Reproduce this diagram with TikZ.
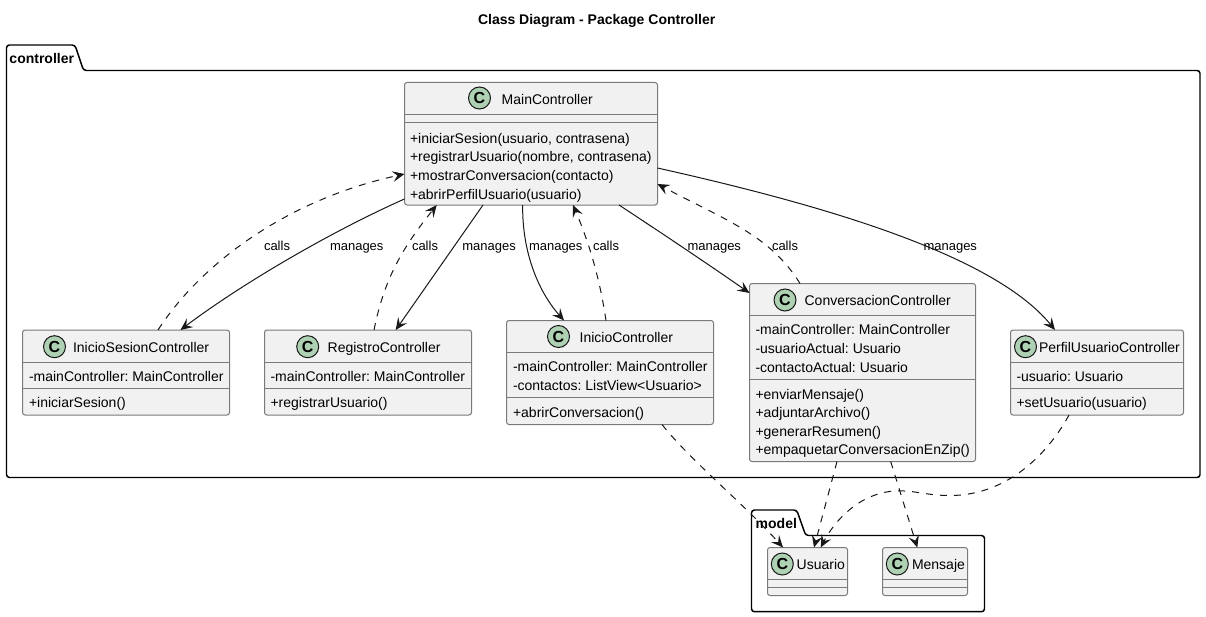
\documentclass[tikz,border=0pt]{standalone}
\usepackage{fontspec}
\setmainfont[Ligatures=CommonOff]{Liberation Sans}
\usetikzlibrary{calc,arrows.meta}
\definecolor{boxfill}{HTML}{F1F1F1}
\definecolor{boxline}{HTML}{7A7A7A}
\definecolor{spot}{HTML}{ADD1B2}
\definecolor{ink}{HTML}{181818}
\tikzset{
  clsbox/.style={draw=boxline,fill=boxfill,line width=0.75pt,rounded corners=1.9pt,inner sep=0pt,outer sep=0pt},
  sepline/.style={draw=boxline,line width=0.75pt},
  spotc/.style={circle,draw=ink,fill=spot,line width=0.75pt,minimum size=16.5pt,inner sep=0pt,font=\fontsize{12}{12}\selectfont\bfseries},
  txt/.style={anchor=base west,inner sep=0pt,outer sep=0pt,font=\fontsize{10.5}{12}\selectfont\frenchspacing,text=black},
  btxt/.style={txt,font=\fontsize{10.5}{12}\selectfont\bfseries\frenchspacing},
  edgetxt/.style={txt,font=\fontsize{9.75}{12}\selectfont},
  pkg/.style={draw=black,line width=1.1pt,rounded corners=2.2pt},
  mgr/.style={draw=ink,line width=0.75pt,-{Stealth[length=9pt,width=8pt,inset=3.6pt]}},
  dep/.style={mgr,dash pattern=on 5.25pt off 5.25pt},
}
% \cls{name}{x1}{y1}{x2}{y2}
\newcommand{\cls}[5]{%
  \pgfmathsetmacro{\cw}{(#4-#2)*0.75}\pgfmathsetmacro{\ch}{(#5-#3)*0.75}%
  \pgfmathsetmacro{\cx}{(#2+#4)/2}\pgfmathsetmacro{\cy}{(#3+#5)/2}%
  \node[clsbox,minimum width=\cw pt,minimum height=\ch pt] (#1) at (\cx,\cy) {};}
\newcommand{\rowline}[2]{\draw[sepline] ($(#1.north west)+(0,#2)$) -- ($(#1.north east)+(0,#2)$);}
\newcommand{\spotmark}[3]{\node[spotc] (#1-c) at (#2,#3) {C};}
\newcommand{\lbl}[4]{\node[txt] (#1) at (#2,#3) {#4};}
\newcommand{\elbl}[3]{\node[edgetxt] (#1) at (#2,250.3) {#3};}
\begin{document}
\begin{tikzpicture}[x=0.75pt,y=-0.75pt]
\useasboundingbox (0,0) rectangle (1206,617);
\fill[white] (0,0) rectangle (1206,617);

\node[btxt] (title) at (478,25) {Class Diagram - Package Controller};

% packages
\draw[pkg] (6.5,70.5) -- (6.5,45) -- (75,45) -- (83.5,70.5) -- (1200,70.5) -- (1200,477.5) -- (6.5,477.5) -- cycle;
\node[btxt] (pkgcontroller) at (9.5,63.3) {controller};
\draw[pkg] (751.5,535.5) -- (751.5,510) -- (796.7,510) -- (805.7,535.5) -- (984.5,535.5) -- (984.5,611.7) -- (751.5,611.7) -- cycle;

% classes
\cls{main}{404.5}{82.5}{657.5}{205}
\rowline{main}{32}\rowline{main}{39.5}
\spotmark{main}{479.5}{98}
\lbl{main-t}{501.7}{104}{MainController}
\lbl{main-m1}{410}{143}{+iniciarSesion(usuario, contrasena)}
\lbl{main-m2}{410}{161.7}{+registrarUsuario(nombre, contrasena)}
\lbl{main-m3}{410}{180}{+mostrarConversacion(contacto)}
\lbl{main-m4}{410}{199}{+abrirPerfilUsuario(usuario)}

\cls{sesion}{22.5}{330}{229.5}{415}
\rowline{sesion}{32}\rowline{sesion}{58}
\spotmark{sesion}{54.5}{346.7}
\lbl{sesion-t}{73}{352}{InicioSesionController}
\lbl{sesion-a}{29}{381}{-mainController: MainController}
\lbl{sesion-m}{29}{407.7}{+iniciarSesion()}

\cls{registro}{264.5}{330}{471.5}{415}
\rowline{registro}{32}\rowline{registro}{58}
\spotmark{registro}{307.7}{346.7}
\lbl{registro-t}{327.7}{352}{RegistroController}
\lbl{registro-a}{270.5}{381}{-mainController: MainController}
\lbl{registro-m}{270.5}{407.7}{+registrarUsuario()}

\cls{inicio}{506.5}{320.5}{713.5}{424.5}
\rowline{inicio}{32}\rowline{inicio}{77}
\spotmark{inicio}{558.5}{336.5}
\lbl{inicio-t}{579.6}{342}{InicioController}
\lbl{inicio-a1}{513}{371.7}{-mainController: MainController}
\lbl{inicio-a2}{513}{390}{-contactos: ListView<Usuario>}
\lbl{inicio-m}{513}{417}{+abrirConversacion()}

\cls{conv}{749.5}{283.5}{975.5}{461.5}
\rowline{conv}{32}\rowline{conv}{96}
\spotmark{conv}{785}{300}
\lbl{conv-t}{804.6}{305.5}{ConversacionController}
\lbl{conv-a1}{755.5}{334.5}{-mainController: MainController}
\lbl{conv-a2}{755.5}{353}{-usuarioActual: Usuario}
\lbl{conv-a3}{755.5}{372}{-contactoActual: Usuario}
\lbl{conv-m1}{755.5}{399}{+enviarMensaje()}
\lbl{conv-m2}{755.5}{417.5}{+adjuntarArchivo()}
\lbl{conv-m3}{755.5}{436}{+generarResumen()}
\lbl{conv-m4}{755.5}{454.7}{+empaquetarConversacionEnZip()}

\cls{perfil}{1010.5}{330}{1183.5}{415}
\rowline{perfil}{32}\rowline{perfil}{58}
\spotmark{perfil}{1025.5}{346.7}
\lbl{perfil-t}{1039}{352}{PerfilUsuarioController}
\lbl{perfil-a}{1016.5}{381}{-usuario: Usuario}
\lbl{perfil-m}{1016.5}{407.7}{+setUsuario(usuario)}

\cls{usuario}{767.5}{547.5}{847.5}{595.5}
\rowline{usuario}{32}\rowline{usuario}{40}
\spotmark{usuario}{782.3}{564}
\lbl{usuario-t}{796.7}{569.3}{Usuario}

\cls{mensaje}{882.5}{547.5}{967.5}{595.5}
\rowline{mensaje}{32}\rowline{mensaje}{40}
\spotmark{mensaje}{897.3}{564}
\lbl{mensaje-t}{912}{569.3}{Mensaje}

% connectors
\draw[mgr] ($(main.south west)+(0,-6)$) .. controls (330,232) and (240,285) .. ($(sesion.north west)+(158,0)$);
\draw[dep] ($(sesion.north west)+(135.5,0)$) .. controls (200,265) and (285,200) .. ($(main.north west)+(0,91.5)$);
\draw[mgr] ($(main.south west)+(78.5,0)$) -- ($(registro.north west)+(131.2,0)$);
\draw[dep] ($(registro.north west)+(109.5,0)$) .. controls (385,275) and (405,245) .. ($(main.south west)+(32.2,0)$);
\draw[mgr] ($(main.south west)+(118.2,0)$) .. controls (522,250) and (537,290) .. ($(inicio.north west)+(57.5,0)$);
\draw[dep] ($(inicio.north west)+(99.5,0)$) .. controls (600,280) and (590,245) .. ($(main.south west)+(168.5,0)$);
\draw[mgr] ($(main.south west)+(214.5,0)$) .. controls (660,232) and (705,262) .. ($(conv.north west)+(0,9.5)$);
\draw[dep] ($(conv.north west)+(50.5,0)$) .. controls (770,235) and (725,220) .. ($(main.north east)+(0,101.5)$);
\draw[mgr] ($(main.north east)+(0,85.5)$) .. controls (800,200) and (990,250) .. ($(perfil.north west)+(44.5,0)$);
\draw[dep] ($(inicio.south west)+(155.5,0)$) .. controls (690,460) and (745,505) .. ($(usuario.north west)+(15.5,0)$);
\draw[dep] ($(conv.south west)+(87.5,0)$) -- ($(usuario.north west)+(46.5,0)$);
\draw[dep] ($(conv.south west)+(141.2,0)$) -- ($(mensaje.north west)+(34.8,0)$);
\draw[dep] ($(perfil.south west)+(58.5,0)$) .. controls (1050,450) and (1010,495.5) .. (950,495.5) .. controls (925,495.5) and (915,490) .. (895,491) .. controls (860,493) and (835,520) .. ($(usuario.north west)+(53.2,0)$);

% connector labels
\elbl{l1}{264}{calls}
\elbl{l2}{330}{manages}
\elbl{l3}{412}{calls}
\elbl{l4}{462.3}{manages}
\elbl{l5}{529}{manages}
\elbl{l6}{593}{calls}
\elbl{l7}{687.5}{manages}
\elbl{l8}{772}{calls}
\elbl{l9}{923.5}{manages}

\node[btxt] (pkgmodel) at (755.7,528.3) {model};
\end{tikzpicture}
\end{document}
